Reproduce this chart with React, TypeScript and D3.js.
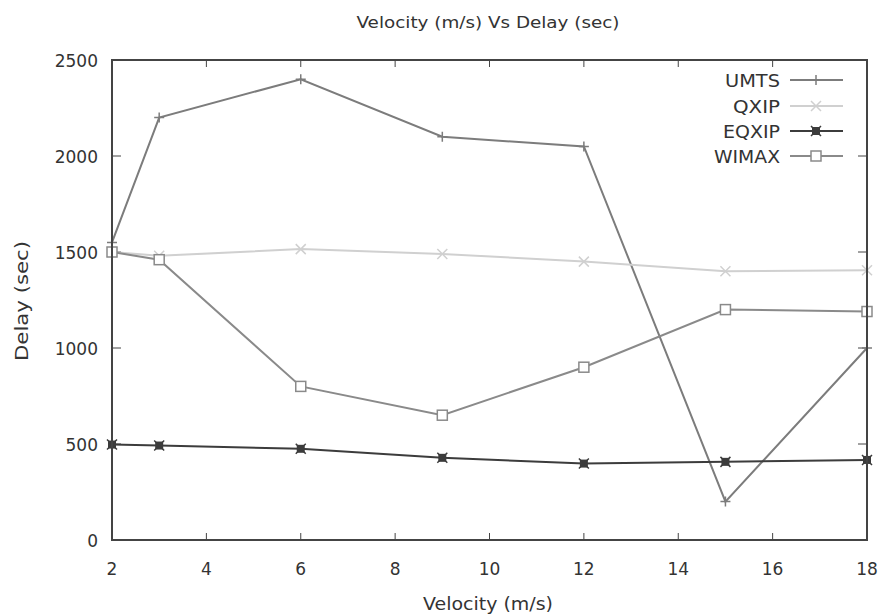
import React from "react";
import * as d3 from "d3";

const velocities = [2, 3, 6, 9, 12, 15, 18];
const umts = [1550, 2200, 2400, 2100, 2050, 200, 1000];
const qxip = [1500, 1480, 1515, 1490, 1450, 1400, 1405];
const eqxip = [497, 492, 475, 428, 398, 407, 417];
const wimax = [1500, 1460, 800, 650, 900, 1200, 1190];
const seriesNames = ["UMTS", "QXIP", "EQXIP", "WIMAX"];
const xTicks = [2, 4, 6, 8, 10, 12, 14, 16, 18];
const yTicks = [0, 500, 1000, 1500, 2000, 2500];

const W = 881, H = 616;
const L = 112, R = 867, T = 60, B = 540;
const font = "'DejaVu Sans', sans-serif";

type Series = { name: string; values: number[]; color: string; marker: string };
const series: Series[] = [
  { name: seriesNames[0], values: umts, color: "#7c7c7c", marker: "plus" },
  { name: seriesNames[1], values: qxip, color: "#d0d0d0", marker: "cross" },
  { name: seriesNames[2], values: eqxip, color: "#3c3c3c", marker: "star" },
  { name: seriesNames[3], values: wimax, color: "#8a8a8a", marker: "box" },
];

function Marker({ type, x, y, color }: { type: string; x: number; y: number; color: string }) {
  const s = 5;
  if (type === "plus")
    return <path d={`M${x - s},${y}H${x + s}M${x},${y - s}V${y + s}`} stroke={color} strokeWidth={1.5} fill="none" />;
  if (type === "cross")
    return <path d={`M${x - s},${y - s}L${x + s},${y + s}M${x - s},${y + s}L${x + s},${y - s}`} stroke={color} strokeWidth={1.5} fill="none" />;
  if (type === "star")
    return <g><rect x={x - 4} y={y - 4} width={8} height={8} fill={color} />
      <path d={`M${x - s},${y - s}L${x + s},${y + s}M${x - s},${y + s}L${x + s},${y - s}`} stroke={color} strokeWidth={1.5} /></g>;
  return <rect x={x - 5} y={y - 5} width={10} height={10} fill="white" stroke={color} strokeWidth={1.5} />;
}

export default function App() {
  const x = d3.scaleLinear().domain([2, 18]).range([L, R]);
  const y = d3.scaleLinear().domain([0, 2500]).range([B, T]);
  const line = d3.line<number>().x((_, i) => x(velocities[i])).y((d) => y(d));
  const legY = [80, 106, 131, 156];
  const legW = [55, 47, 57, 66];
  return (
    <svg width={W} height={H} style={{ position: "absolute", left: 0, top: 0 }} fontFamily={font}>
      <rect width={W} height={H} fill="white" />
      <text x={488} y={28} textAnchor="middle" fontSize={15} fill="#333" textLength={263} lengthAdjust="spacingAndGlyphs">Velocity (m/s) Vs Delay (sec)</text>
      {xTicks.map((t) => (
        <g key={"x" + t}>
          <line x1={x(t)} x2={x(t)} y1={B} y2={B - 7} stroke="#444" />
          <line x1={x(t)} x2={x(t)} y1={T} y2={T + 7} stroke="#444" />
          <text x={x(t)} y={B + 35} textAnchor="middle" fontSize={17} fill="#333">{t}</text>
        </g>
      ))}
      {yTicks.map((t) => (
        <g key={"y" + t}>
          <line x1={L} x2={L + 9} y1={y(t)} y2={y(t)} stroke="#444" />
          <line x1={R} x2={R - 9} y1={y(t)} y2={y(t)} stroke="#444" />
          <text x={L - 14} y={y(t) + 7} textAnchor="end" fontSize={17} fill="#333">{t}</text>
        </g>
      ))}
      <text x={488} y={610} textAnchor="middle" fontSize={18} fill="#333" textLength={130} lengthAdjust="spacingAndGlyphs">Velocity (m/s)</text>
      <text transform={`translate(28,${301}) rotate(-90)`} textAnchor="middle" fontSize={18} fill="#333" textLength={120} lengthAdjust="spacingAndGlyphs">Delay (sec)</text>
      {series.map((s) => (
        <g key={s.name}>
          <path d={line(s.values) || ""} fill="none" stroke={s.color} strokeWidth={2} />
          {s.values.map((v, i) => <Marker key={i} type={s.marker} x={x(velocities[i])} y={y(v)} color={s.color} />)}
        </g>
      ))}
      {series.map((s, i) => (
        <g key={"leg" + s.name}>
          <text x={780} y={legY[i] + 7} textAnchor="end" fontSize={18} fill="#333" textLength={legW[i]} lengthAdjust="spacingAndGlyphs">{s.name}</text>
          <line x1={790} x2={843} y1={legY[i]} y2={legY[i]} stroke={s.color} strokeWidth={2} />
          <Marker type={s.marker} x={816} y={legY[i]} color={s.color} />
        </g>
      ))}
      <rect x={L} y={T} width={R - L} height={B - T} fill="none" stroke="#444" strokeWidth={2} />
    </svg>
  );
}
